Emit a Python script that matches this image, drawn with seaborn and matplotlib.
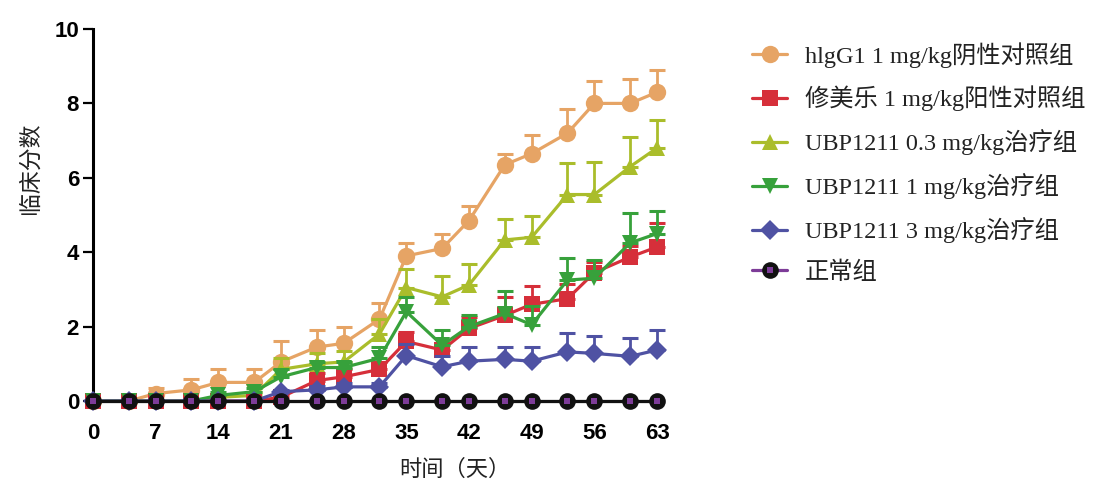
import pandas as pd
import seaborn as sns
import matplotlib.pyplot as plt
from matplotlib.lines import Line2D
import numpy as np

# days of scoring
days = [0, 4, 7, 11, 14, 18, 21, 25, 28, 32, 35, 39, 42, 46, 49, 53, 56, 60, 63]

groups = ["hlgG1 1 mg/kg阴性对照组", "修美乐 1 mg/kg阳性对照组", "UBP1211 0.3 mg/kg治疗组",
          "UBP1211 1 mg/kg治疗组", "UBP1211 3 mg/kg治疗组", "正常组"]

# mean clinical score per group
igg_mean = [0, 0, 0.2, 0.3, 0.5, 0.5, 1.05, 1.45, 1.55, 2.2, 3.9, 4.1, 4.85, 6.35, 6.65, 7.2, 8.0, 8.0, 8.3]
hum_mean = [0, 0, 0, 0, 0, 0, 0.1, 0.55, 0.65, 0.85, 1.6, 1.37, 1.95, 2.3, 2.6, 2.75, 3.45, 3.87, 4.14]
u03_mean = [0, 0, 0, 0, 0.1, 0.15, 0.85, 1.0, 1.05, 1.8, 3.05, 2.8, 3.12, 4.33, 4.4, 5.55, 5.55, 6.3, 6.8]
u1_mean = [0, 0, 0, 0, 0.15, 0.25, 0.65, 0.9, 0.9, 1.15, 2.4, 1.5, 2.0, 2.35, 2.05, 3.25, 3.3, 4.25, 4.5]
u3_mean = [0, 0, 0, 0, 0, 0, 0.25, 0.3, 0.38, 0.38, 1.22, 0.92, 1.07, 1.12, 1.07, 1.32, 1.28, 1.2, 1.37]
norm_mean = [0] * 19

# upper error (SEM)
igg_err = [0, 0, 0.15, 0.3, 0.35, 0.35, 0.55, 0.45, 0.45, 0.43, 0.35, 0.4, 0.4, 0.3, 0.5, 0.65, 0.6, 0.65, 0.6]
hum_err = [0, 0, 0, 0, 0, 0, 0.1, 0.2, 0.2, 0.2, 0.25, 0.2, 0.3, 0.5, 0.5, 0.4, 0.3, 0.3, 0.65]
u03_err = [0, 0, 0, 0, 0.1, 0.1, 0.3, 0.3, 0.3, 0.4, 0.5, 0.57, 0.55, 0.55, 0.57, 0.85, 0.88, 0.8, 0.75]
u1_err = [0, 0, 0, 0, 0.1, 0.1, 0.2, 0.15, 0.15, 0.3, 0.4, 0.4, 0.3, 0.6, 0.5, 0.6, 0.5, 0.8, 0.6]
u3_err = [0, 0, 0, 0, 0, 0, 0.05, 0.1, 0.1, 0.1, 0.3, 0.3, 0.38, 0.33, 0.38, 0.5, 0.48, 0.5, 0.53]
norm_err = [0] * 19

means = [igg_mean, hum_mean, u03_mean, u1_mean, u3_mean, norm_mean]
errs = [igg_err, hum_err, u03_err, u1_err, u3_err, norm_err]
colors = ["#E6A465", "#D62F3A", "#AABD2B", "#37A13B", "#4F52A3", "#111111"]
markers = ["o", "s", "^", "v", "D", "o"]
msizes = [12.5, 11, 12, 12, 10, 12]
purple = "#7D3C98"

sns.set_theme(style="white")
plt.rcParams["font.family"] = ["Liberation Sans Narrow", "Liberation Sans", "DejaVu Sans"]

fig = plt.figure(figsize=(10.99, 4.86), dpi=100)
ax = fig.add_axes([93 / 1099, 1 - 401 / 486, 564 / 1099, 372 / 486])

# draw order so that black normal line sits on top
order = [0, 2, 1, 3, 4, 5]
for z, i in enumerate(order):
    df = pd.DataFrame({"day": days, "score": means[i]})
    if i < 5:
        ax.errorbar(days, means[i], yerr=[np.zeros(len(days)), errs[i]], fmt="none",
                    ecolor=colors[i], elinewidth=2.0, capsize=6, capthick=2.2,
                    zorder=2 + z, clip_on=False)
    sns.lineplot(data=df, x="day", y="score", color=colors[i], marker=markers[i],
                 markersize=msizes[i], markerfacecolor=colors[i], markeredgewidth=0,
                 linewidth=2.3, ax=ax, zorder=2.5 + z, clip_on=False, legend=False)

# purple centre of the normal-group markers
norm_df = pd.DataFrame({"day": days, "score": norm_mean})
sns.scatterplot(data=norm_df, x="day", y="score", marker="s", s=16, color=purple,
                linewidth=0, ax=ax, zorder=20, clip_on=False, legend=False)

ax.set_xlim(0, 63)
ax.set_ylim(0, 10)
ax.set_xticks([0, 7, 14, 21, 28, 35, 42, 49, 56, 63])
ax.set_yticks([0, 2, 4, 6, 8, 10])
ax.set_xlabel("")
ax.set_ylabel("")
for s in ["top", "right"]:
    ax.spines[s].set_visible(False)
ax.spines["left"].set_linewidth(2.2)
ax.spines["left"].set_color("black")
ax.spines["bottom"].set_linewidth(2.2)
ax.spines["bottom"].set_color("black")
ax.tick_params(axis="y", direction="out", length=7, width=1.6, pad=3, labelsize=16,
               colors="black", left=True)
ax.tick_params(axis="x", length=0, pad=16, labelsize=16, colors="black")
for lab in ax.get_xticklabels() + ax.get_yticklabels():
    lab.set_fontweight("bold")

fig.text(30 / 1099, 1 - 168 / 486, "临床分数", rotation=90, ha="center", va="center",
         fontsize=16.5, family=["Noto Sans CJK SC", "DejaVu Sans"], color="#222222")
fig.text(455 / 1099, 1 - 469 / 486, "时间（天）", ha="center", va="center",
         fontsize=16, family=["Noto Sans CJK SC", "DejaVu Sans"], color="#222222")

handles = []
for i in range(6):
    if i == 5:
        h = (Line2D([], [], color=purple, marker="o", markersize=12,
                    markerfacecolor="#111111", markeredgewidth=0, linewidth=2.3),
             Line2D([], [], color=purple, marker="s", markersize=4, linestyle="none",
                    markerfacecolor=purple, markeredgewidth=0))
    else:
        h = Line2D([], [], color=colors[i], marker=markers[i], markersize=msizes[i],
                   markerfacecolor=colors[i], markeredgewidth=0, linewidth=2.3)
    handles.append(h)

leg = fig.legend(handles, groups, loc="upper left", bbox_to_anchor=(752 / 1099, 1 - 42 / 486),
                 frameon=False, handlelength=1.45, handletextpad=0.72, labelspacing=0.74,
                 borderpad=0, borderaxespad=0,
                 prop={"family": ["Liberation Serif", "Noto Sans CJK SC"], "size": 17.5})
for t in leg.get_texts():
    t.set_color("#222222")

fig.savefig("out.png", dpi=100)
